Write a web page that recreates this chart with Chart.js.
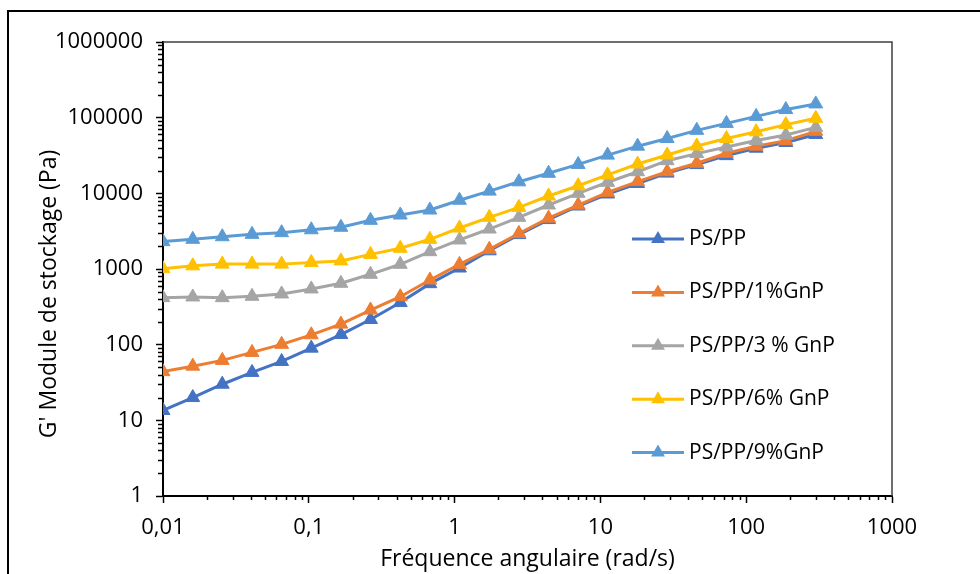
<!DOCTYPE html>
<html>
<head>
<meta charset="utf-8">
<script src="https://cdn.jsdelivr.net/npm/chart.js@4"></script>
<style>
  html, body { margin: 0; padding: 0; background: #fff; }
  #wrap { width: 980px; height: 574px; position: relative; }
</style>
</head>
<body>
<div id="wrap"><canvas id="moduleChart"></canvas></div>
<script>
// angular frequency (rad/s)
const freq = [0.01, 0.016, 0.0255, 0.0408, 0.0651, 0.104, 0.166, 0.265, 0.424, 0.677,
              1.08, 1.73, 2.76, 4.41, 7.04, 11.2, 18.0, 28.7, 45.8, 73.2, 117, 187, 300];

// G' storage modulus (Pa) for each blend
const gPSPP   = [13.5, 20, 30, 43, 60, 90, 136, 215, 360, 640, 1030, 1740, 2850, 4500, 6800,
                 9800, 13500, 18500, 24000, 31500, 39500, 47000, 60000];
const gGnP1   = [44, 52, 62, 79, 101, 135, 187, 287, 430, 715, 1150, 1820, 2950, 4700, 7000,
                 10300, 14300, 19300, 25000, 33800, 42000, 49700, 66000];
const gGnP3   = [418, 427, 418, 436, 468, 545, 647, 851, 1154, 1693, 2420, 3375, 4820, 7010, 10000,
                 14000, 19300, 27000, 33500, 41000, 50000, 59000, 74500];
const gGnP6   = [1010, 1100, 1160, 1160, 1160, 1220, 1280, 1560, 1880, 2470, 3480, 4820, 6530, 9220, 12600,
                 17500, 24400, 32100, 42200, 53000, 65000, 81000, 98000];
const gGnP9   = [2300, 2470, 2670, 2870, 3020, 3300, 3560, 4400, 5170, 6020, 8100, 10700, 14200, 18400, 24100,
                 32000, 42000, 53000, 68000, 84000, 104000, 128000, 152000];

const seriesNames  = ['PS/PP', 'PS/PP/1%GnP', 'PS/PP/3 % GnP', 'PS/PP/6% GnP', 'PS/PP/9%GnP'];
const seriesValues = [gPSPP, gGnP1, gGnP3, gGnP6, gGnP9];
const seriesColors = ['#4472C4', '#ED7D31', '#A5A5A5', '#FFC000', '#5B9BD5'];

const xTicks = [0.01, 0.1, 1, 10, 100, 1000];
const yTicks = [1, 10, 100, 1000, 10000, 100000, 1000000];

const FONT = '"Open Sans", sans-serif';

var datasets = seriesValues.map(function (vals, i) {
    return {
        label: seriesNames[i],
        data: freq.map((x, j) => ({ x: x, y: vals[j] })),
        borderColor: seriesColors[i],
        backgroundColor: seriesColors[i],
        borderWidth: 3,
        pointStyle: 'triangle',
        pointRadius: 8,
        pointBorderWidth: 1,
        pointBorderColor: seriesColors[i],
        pointBackgroundColor: seriesColors[i],
        tension: 0,
        order: seriesValues.length - i   // later series drawn on top
    };
});

// frame, plot border, minor ticks, axis titles and legend
var decor = {
    id: 'decor',
    beforeDraw: function (chart) {
        var ctx = chart.ctx;
        ctx.save();
        ctx.fillStyle = '#fff';
        ctx.fillRect(0, 0, chart.width, chart.height);
        ctx.strokeStyle = '#000';
        ctx.lineWidth = 2;
        ctx.beginPath();
        ctx.moveTo(8, chart.height + 2);
        ctx.lineTo(8, 11);
        ctx.lineTo(chart.width + 2, 11);
        ctx.stroke();
        ctx.restore();
    },
    afterDraw: function (chart) {
        var ctx = chart.ctx;
        var a = chart.chartArea;
        var xs = chart.scales.x, ys = chart.scales.y;
        ctx.save();

        // top and right edges of the plot area
        ctx.strokeStyle = '#404040';
        ctx.lineWidth = 1.5;
        ctx.beginPath();
        ctx.moveTo(a.left, a.top);
        ctx.lineTo(a.right, a.top);
        ctx.lineTo(a.right, a.bottom);
        ctx.stroke();

        // minor ticks
        ctx.strokeStyle = '#000';
        ctx.lineWidth = 1.5;
        ctx.beginPath();
        for (var d = 0.01; d < 1000; d *= 10) {
            for (var k = 2; k <= 9; k++) {
                var px = Math.round(xs.getPixelForValue(k * d)) + 0.5;
                ctx.moveTo(px, a.bottom);
                ctx.lineTo(px, a.bottom + 4);
            }
        }
        for (var e = 1; e < 1000000; e *= 10) {
            for (var m = 2; m <= 9; m++) {
                var py = Math.round(ys.getPixelForValue(m * e)) + 0.5;
                ctx.moveTo(a.left, py);
                ctx.lineTo(a.left - 5, py);
            }
        }
        ctx.stroke();

        // axis titles
        ctx.fillStyle = '#000';
        ctx.font = '23px ' + FONT;
        ctx.textAlign = 'center';
        ctx.textBaseline = 'middle';
        ctx.fillText('Fréquence angulaire (rad/s)', (a.left + a.right) / 2, 559);
        ctx.save();
        ctx.translate(49, 294);
        ctx.rotate(-Math.PI / 2);
        ctx.fillText("G' Module de stockage (Pa)", 0, 0);
        ctx.restore();

        // legend: line with a triangle marker, then the series name
        ctx.font = '21px ' + FONT;
        ctx.textAlign = 'left';
        chart.data.datasets.forEach(function (ds, i) {
            var ly = 239 + i * 53.4;
            var r = 8;
            ctx.strokeStyle = ds.borderColor;
            ctx.fillStyle = ds.borderColor;
            ctx.lineWidth = 3;
            ctx.beginPath();
            ctx.moveTo(632, ly);
            ctx.lineTo(684, ly);
            ctx.stroke();
            ctx.beginPath();
            ctx.moveTo(658, ly - r);
            ctx.lineTo(658 + r * 0.866, ly + r * 0.5);
            ctx.lineTo(658 - r * 0.866, ly + r * 0.5);
            ctx.closePath();
            ctx.fill();
            ctx.fillStyle = '#000';
            ctx.fillText(ds.label, 689, ly);
        });
        ctx.restore();
    }
};

var ctx = document.getElementById('moduleChart').getContext('2d');
var moduleChart = new Chart(ctx, {
    type: 'line',
    data: { datasets: datasets },
    options: {
        responsive: true,
        maintainAspectRatio: false,
        animation: false,
        devicePixelRatio: 1,
        layout: { padding: { left: 0, top: 42, right: 88, bottom: 0 } },
        plugins: {
            legend: { display: false },
            tooltip: { enabled: false }
        },
        scales: {
            x: {
                type: 'logarithmic',
                position: 'bottom',
                min: 0.01,
                max: 1000,
                afterBuildTicks: function (scale) {
                    scale.ticks = xTicks.map(v => ({ value: v, major: true }));
                },
                afterFit: function (scale) { scale.height = 78; },
                grid: { drawOnChartArea: false, drawTicks: true, tickLength: 7, tickColor: '#000', tickWidth: 1.5 },
                border: { color: '#000', width: 2 },
                ticks: {
                    autoSkip: false,
                    maxRotation: 0,
                    padding: 12,
                    color: '#000',
                    font: { family: FONT, size: 22 },
                    callback: function (v) { return String(v).replace('.', ','); }
                }
            },
            y: {
                type: 'logarithmic',
                position: 'left',
                min: 1,
                max: 1000000,
                afterBuildTicks: function (scale) {
                    scale.ticks = yTicks.map(v => ({ value: v, major: true }));
                },
                afterFit: function (scale) { scale.width = 163; },
                grid: { drawOnChartArea: false, drawTicks: true, tickLength: 7, tickColor: '#000', tickWidth: 1.5 },
                border: { color: '#000', width: 2 },
                ticks: {
                    autoSkip: false,
                    padding: 13,
                    color: '#000',
                    font: { family: FONT, size: 22 },
                    callback: function (v) { return String(v); }
                }
            }
        }
    },
    plugins: [decor]
});
</script>
</body>
</html>
